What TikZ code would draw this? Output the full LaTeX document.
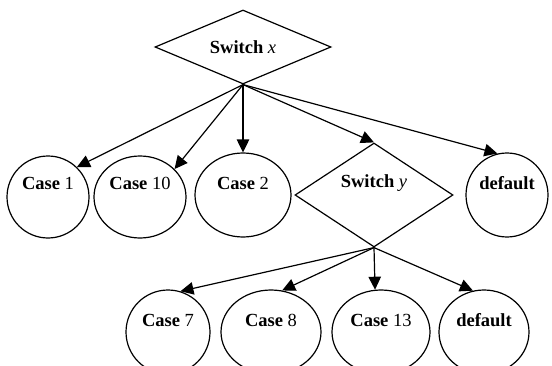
\documentclass[tikz,border=0pt]{standalone}
\usepackage{fontspec}
\setmainfont{Liberation Serif}
\usetikzlibrary{shapes.geometric,arrows.meta}
\tikzset{
  dia/.style={diamond, draw, line width=1.2pt, inner sep=0pt},
  ell/.style={ellipse, draw, line width=1.2pt, inner sep=0pt},
  lbl/.style={font=\fontsize{18.5}{20}\selectfont, inner sep=0pt},
  arr/.style={line width=1.2pt, -{Triangle[length=13pt,width=12.5pt]}, shorten >=0pt}
}
\begin{document}
\begin{tikzpicture}[x=1pt,y=1pt]
\useasboundingbox (0,0) rectangle (552,365);
\node[dia, minimum width=176pt, minimum height=74pt] (sx) at (243,318) {};
\node[lbl] at (243,318) {\textbf{Switch} \textit{x}};
\node[ell, minimum width=82pt, minimum height=82pt] (c1) at (48,168) {};
\node[lbl] at (48,182) {\textbf{Case} 1};
\node[ell, minimum width=92pt, minimum height=82pt] (c10) at (140,168) {};
\node[lbl] at (140,182) {\textbf{Case} 10};
\node[ell, minimum width=96pt, minimum height=84pt] (c2) at (243,170) {};
\node[lbl] at (243,182) {\textbf{Case} 2};
\node[dia, minimum width=158pt, minimum height=104pt] (sy) at (374,170) {};
\node[lbl] at (374,182) {\textbf{Switch} \textit{y}};
\node[ell, minimum width=82pt, minimum height=84pt] (d1) at (507,170) {};
\node[lbl] at (507,182) {\textbf{default}};
\node[ell, minimum width=84pt, minimum height=84pt] (c7) at (168,33) {};
\node[lbl] at (168,45) {\textbf{Case} 7};
\node[ell, minimum width=100pt, minimum height=84pt] (c8) at (271,33) {};
\node[lbl] at (271,45) {\textbf{Case} 8};
\node[ell, minimum width=98pt, minimum height=84pt] (c13) at (381,33) {};
\node[lbl] at (381,45) {\textbf{Case} 13};
\node[ell, minimum width=90pt, minimum height=84pt] (d2) at (484,33) {};
\node[lbl] at (484,45) {\textbf{default}};
\draw[arr] (sx.south) -- (c1.46);
\draw[arr] (sx.south) -- (c10.39);
\draw[arr] (sx.south) -- (c2.north);
\draw[arr] (sx.south) -- (sy.north);
\draw[arr] (sx.south) -- (d1.103);
\draw[arr] (sy.south) -- (c7.73);
\draw[arr] (sy.south) -- (c8.75);
\draw[arr] (sy.south) -- (c13.98);
\draw[arr] (sy.south) -- (d2.105);
\end{tikzpicture}
\end{document}
